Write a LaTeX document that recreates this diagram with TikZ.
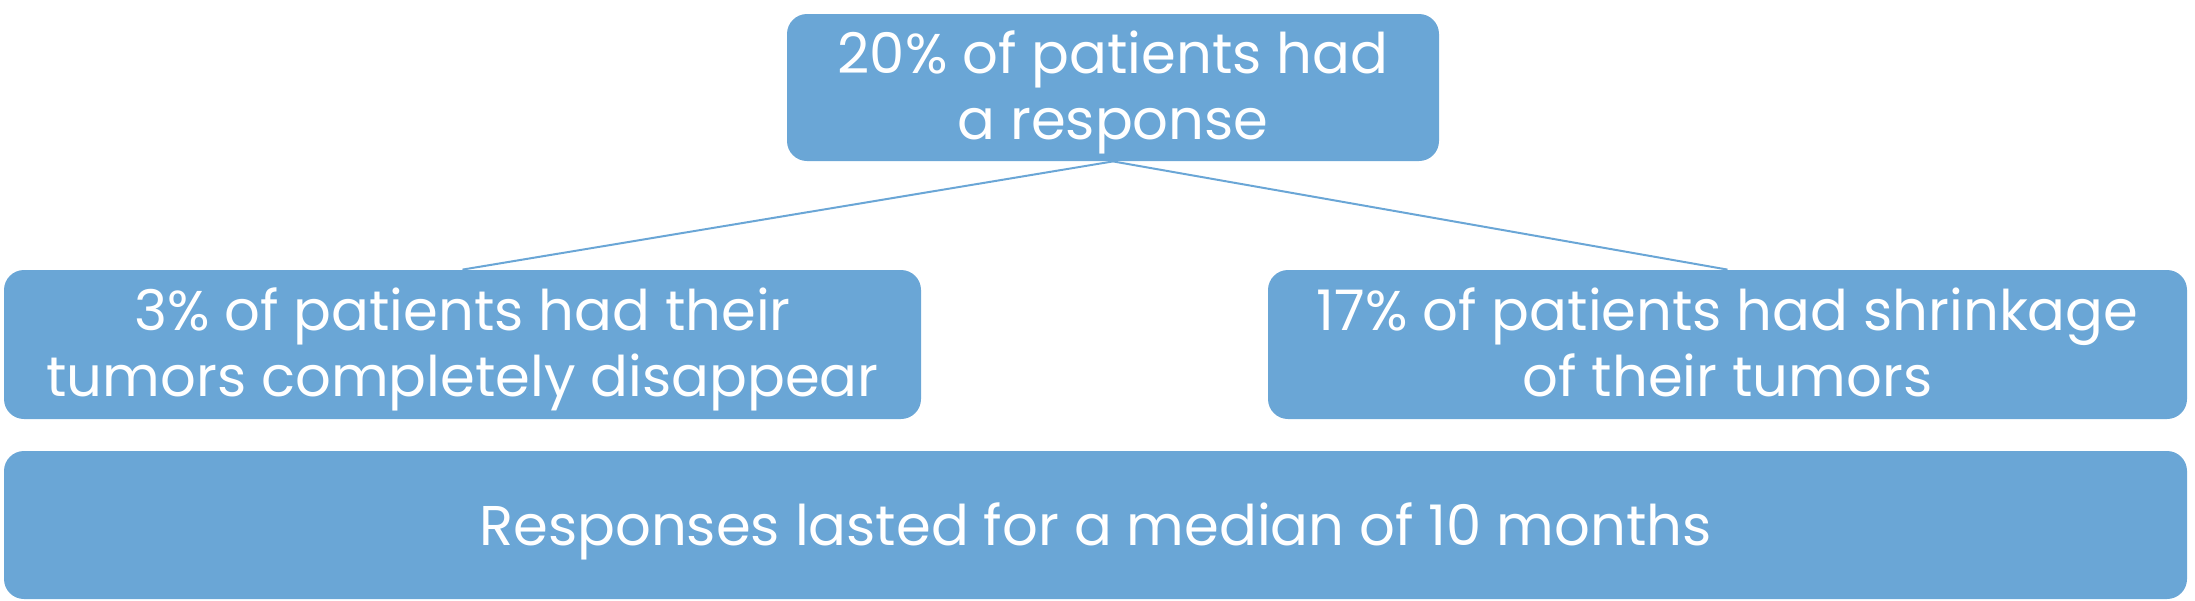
\documentclass[tikz,border=0pt]{standalone}
\usepackage{fontspec}
\setmainfont{Poppins}
\definecolor{boxblue}{RGB}{106,166,214}
\tikzset{
  infobox/.style={fill=boxblue, rounded corners=10pt, text=white, inner sep=0pt,
    align=center, font=\fontsize{28}{33}\selectfont},
  twoline/.style={text height=56pt, text depth=4pt},
  oneline/.style={text height=30pt, text depth=10pt},
  link/.style={draw=boxblue, line width=1pt}
}
\begin{document}
\begin{tikzpicture}[x=0.5pt,y=-0.5pt]
\useasboundingbox (0,0) rectangle (2195,600);
\node[infobox, twoline, minimum width=326pt, minimum height=73.5pt] (top) at (1113,87.5) {20\% of patients had\\a response};
\node[infobox, twoline, minimum width=458.5pt, minimum height=74.5pt] (left) at (462.5,344.5) {3\% of patients had their\\tumors completely disappear};
\node[infobox, twoline, minimum width=459.5pt, minimum height=74.5pt] (right) at (1727.5,344.5) {17\% of patients had shrinkage\\of their tumors};
\node[infobox, oneline, minimum width=1091.5pt, minimum height=74pt] (bottom) at (1095.5,525) {Responses lasted for a median of 10 months};
\draw[link] (top.south) -- (left.north);
\draw[link] (top.south) -- (right.north);
\end{tikzpicture}
\end{document}
